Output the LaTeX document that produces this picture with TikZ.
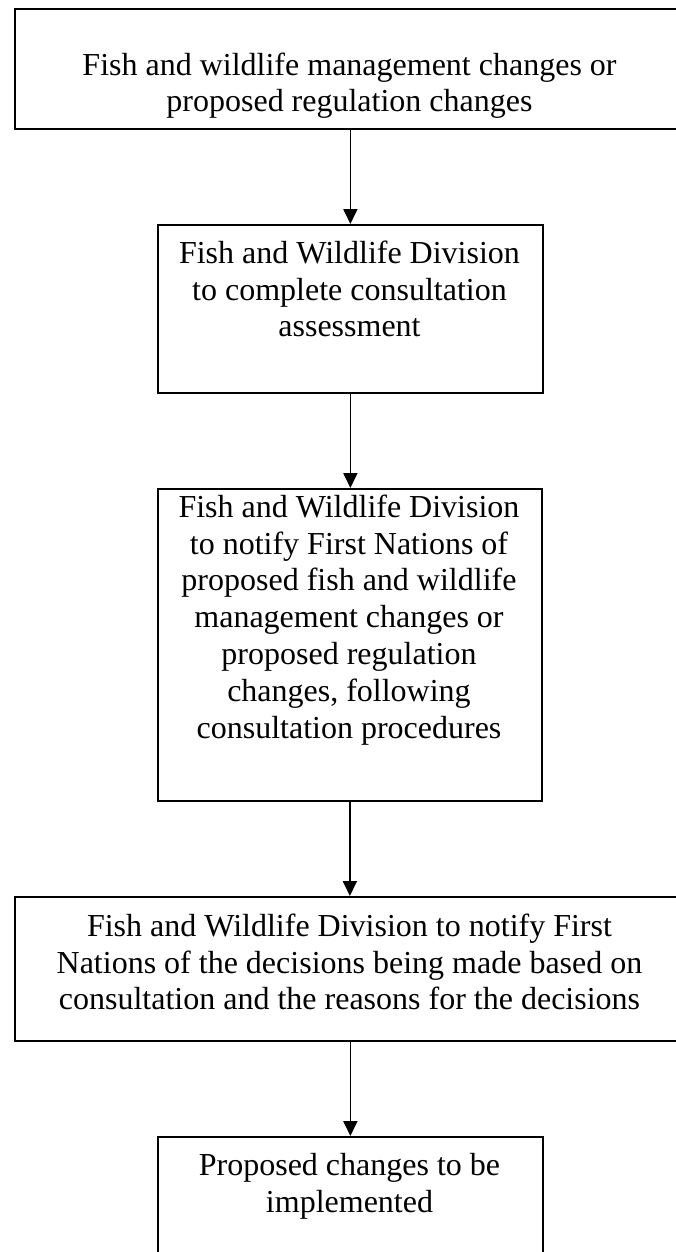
\documentclass[tikz,border=0pt]{standalone}
\usepackage{fontspec}
\setmainfont{Liberation Serif}
\usetikzlibrary{arrows.meta}
\begin{document}
\begin{tikzpicture}[x=1pt,y=-1pt,
  box/.style={draw,line width=1.75pt,inner sep=0pt,anchor=north west},
  txt/.style={inner sep=0pt,align=center,anchor=north,font=\fontsize{32}{36.8}\selectfont},
  conn/.style={line width=1.75pt,-{Triangle[width=14pt,length=15pt]}}]
\useasboundingbox (0,0) rectangle (675,1252);
\fill[white] (0,0) rectangle (675,1252);
% boxes
\node[box,minimum width=672pt,minimum height=120pt] (b1) at (14,8) {};
\node[box,minimum width=385pt,minimum height=168pt] (b2) at (157,224) {};
\node[box,minimum width=384pt,minimum height=312pt] (b3) at (157,488) {};
\node[box,minimum width=672pt,minimum height=144pt] (b4) at (14,896) {};
\node[box,minimum width=385pt,minimum height=160pt] (b5) at (157,1136) {};
% texts
\node[txt] (t1) at (349.5,51) {\rule{0pt}{24pt}Fish and wildlife management changes or\\proposed regulation changes};
\node[txt] (t2) at (349.5,239) {\rule{0pt}{24pt}Fish and Wildlife Division\\to complete consultation\\assessment};
\node[txt] (t3) at (349,493) {\rule{0pt}{24pt}Fish and Wildlife Division\\to notify First Nations of\\proposed fish and wildlife\\management changes or\\proposed regulation\\changes, following\\consultation procedures};
\node[txt] (t4) at (349.5,912) {\rule{0pt}{24pt}Fish and Wildlife Division to notify First\\Nations of the decisions being made based on\\consultation and the reasons for the decisions};
\node[txt] (t5) at (349.5,1151) {\rule{0pt}{24pt}Proposed changes to be\\implemented};
% connectors
\draw[conn] (b1.south -| b2.north) -- (b2.north);
\draw[conn] (b2.south) -- (b3.north -| b2.south);
\draw[conn] (b3.south) -- (b4.north -| b3.south);
\draw[conn] (b4.south -| b5.north) -- (b5.north);
\end{tikzpicture}
\end{document}
